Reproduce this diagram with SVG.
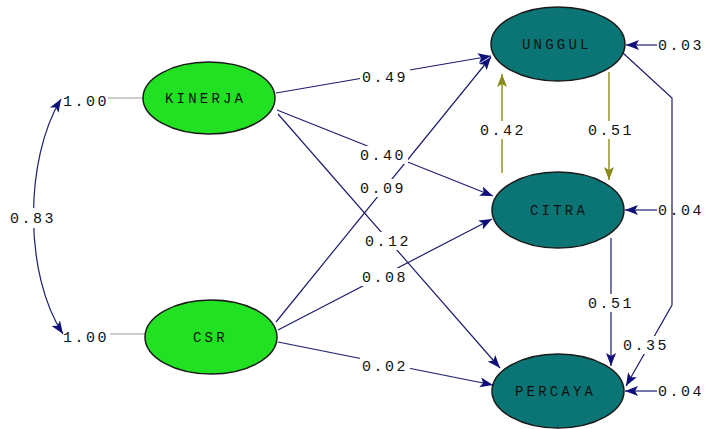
<svg xmlns="http://www.w3.org/2000/svg" width="707" height="429" viewBox="0 0 707 429">
<style>
.bg{fill:#ffffff}
.exo{fill:#22e022;stroke:#1a1a1a;stroke-width:1.5}
.endo{fill:#0b7575;stroke:#1a1a1a;stroke-width:1.5}
.nl{font-family:"Liberation Mono",monospace;font-size:14px;letter-spacing:3.2px;fill:#111}
.num{font-family:"Liberation Mono",monospace;font-size:15px;letter-spacing:2.5px;fill:#111}
.c{fill:none;stroke:#1c1c6e;stroke-width:1.2}
.o{fill:none;stroke:#8a8a18;stroke-width:1.4}
.g{fill:none;stroke:#999;stroke-width:1}
.lb{fill:#ffffff}
</style>
<defs>
<marker id="ah" markerUnits="userSpaceOnUse" markerWidth="14" markerHeight="12" refX="13" refY="6" orient="auto-start-reverse">
<path d="M0,1 L13,6 L0,11 L3,6 z" fill="#10107a"/>
</marker>
<marker id="ao" markerUnits="userSpaceOnUse" markerWidth="14" markerHeight="12" refX="13" refY="6" orient="auto-start-reverse">
<path d="M0,1 L13,6 L0,11 L3,6 z" fill="#8a8a18"/>
</marker>
</defs>
<rect class="bg" x="0" y="0" width="707" height="429"/>
<g id="connectors">
<path class="c" d="M61,99 C24,160 24,275 63,334" marker-start="url(#ah)" marker-end="url(#ah)"/>
<line class="g" x1="108" y1="98" x2="143" y2="98"/>
<line class="g" x1="110" y1="334" x2="145" y2="334"/>
<line class="c" x1="276" y1="93" x2="491" y2="56" marker-end="url(#ah)"/>
<line class="c" x1="277" y1="110" x2="493" y2="196" marker-end="url(#ah)"/>
<line class="c" x1="278" y1="114" x2="500" y2="368" marker-end="url(#ah)"/>
<line class="c" x1="276" y1="322" x2="491" y2="57" marker-end="url(#ah)"/>
<line class="c" x1="278" y1="330" x2="492" y2="219" marker-end="url(#ah)"/>
<line class="c" x1="278" y1="342" x2="493" y2="385" marker-end="url(#ah)"/>
<line class="o" x1="502" y1="173" x2="502" y2="74" marker-end="url(#ao)"/>
<line class="o" x1="609" y1="72" x2="609" y2="180" marker-end="url(#ao)"/>
<line class="c" x1="611" y1="238" x2="611" y2="366" marker-end="url(#ah)"/>
<polyline class="c" points="623,53 672,98 672,305 626,386" marker-end="url(#ah)"/>
<line class="c" x1="657" y1="45" x2="626" y2="45" marker-end="url(#ah)"/>
<line class="c" x1="657" y1="210" x2="625" y2="210" marker-end="url(#ah)"/>
<line class="c" x1="657" y1="391" x2="625" y2="391" marker-end="url(#ah)"/>
<rect class="lb" x="8" y="208" width="50" height="20"/>
<rect class="lb" x="360" y="69" width="50" height="17"/>
<rect class="lb" x="358" y="146" width="50" height="18"/>
<rect class="lb" x="358" y="179" width="48" height="18"/>
<rect class="lb" x="363" y="232" width="50" height="18"/>
<rect class="lb" x="360" y="268" width="48" height="18"/>
<rect class="lb" x="360" y="358" width="50" height="17"/>
<rect class="lb" x="478" y="121" width="50" height="18"/>
<rect class="lb" x="586" y="121" width="50" height="18"/>
<rect class="lb" x="586" y="294" width="50" height="18"/>
<rect class="lb" x="621" y="336" width="48" height="18"/>
</g>
<g id="KINERJA"><ellipse class="exo" cx="209" cy="98" rx="66" ry="36"/><text class="nl" x="165" y="103">KINERJA</text></g>
<g id="CSR"><ellipse class="exo" cx="211" cy="337" rx="66" ry="37"/><text class="nl" x="193" y="342">CSR</text></g>
<g id="UNGGUL"><ellipse class="endo" cx="558" cy="44" rx="67" ry="37"/><text class="nl" x="522" y="49">UNGGUL</text></g>
<g id="CITRA"><ellipse class="endo" cx="558" cy="210" rx="66" ry="38"/><text class="nl" x="530" y="215">CITRA</text></g>
<g id="PERCAYA"><ellipse class="endo" cx="558" cy="391" rx="66" ry="37"/><text class="nl" x="515" y="396">PERCAYA</text></g>
<g id="labels">
<text class="num" x="63" y="106">1.00</text>
<text class="num" x="63" y="342">1.00</text>
<text class="num" x="10" y="223">0.83</text>
<text class="num" x="362" y="82">0.49</text>
<text class="num" x="360" y="160">0.40</text>
<text class="num" x="360" y="193">0.09</text>
<text class="num" x="365" y="246">0.12</text>
<text class="num" x="362" y="282">0.08</text>
<text class="num" x="362" y="371">0.02</text>
<text class="num" x="480" y="135">0.42</text>
<text class="num" x="588" y="135">0.51</text>
<text class="num" x="588" y="308">0.51</text>
<text class="num" x="623" y="350">0.35</text>
<text class="num" x="658" y="50">0.03</text>
<text class="num" x="658" y="215">0.04</text>
<text class="num" x="658" y="396">0.04</text>
</g>
</svg>
